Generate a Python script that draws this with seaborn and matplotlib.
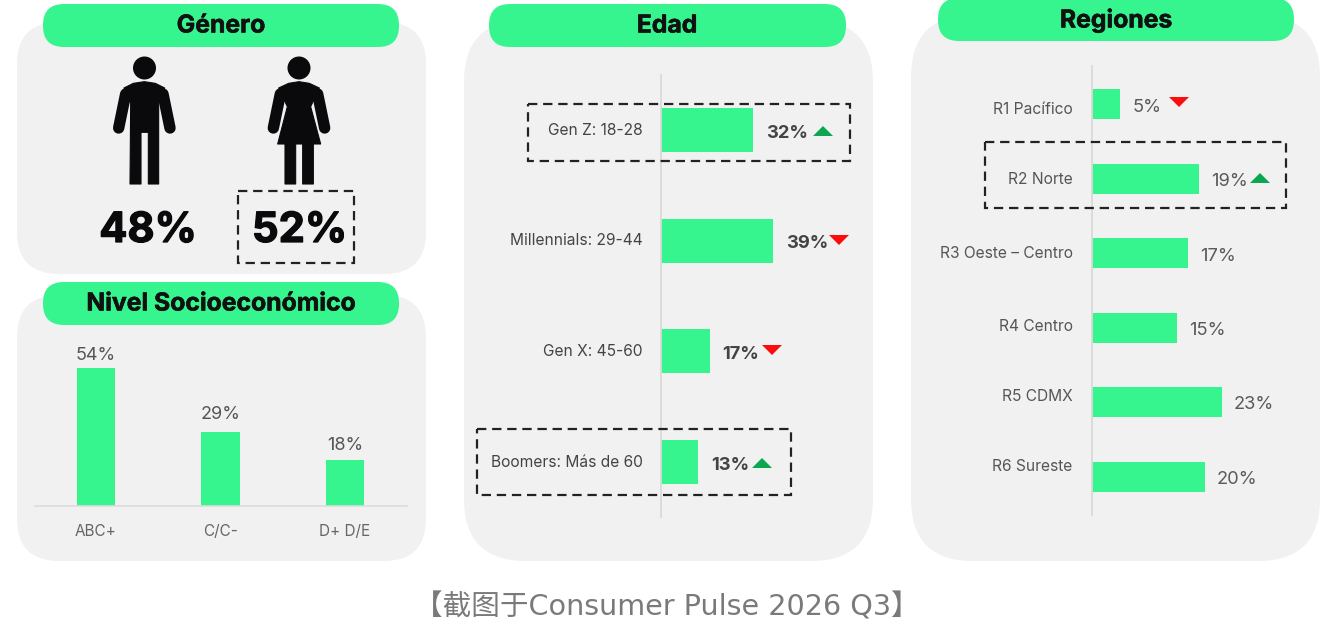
import matplotlib
matplotlib.use("Agg")
import matplotlib.pyplot as plt
import matplotlib.patheffects as pe
import seaborn as sns
import pandas as pd
from matplotlib.patches import FancyBboxPatch, Polygon, Circle, Rectangle
from matplotlib.transforms import ScaledTranslation

sns.set_style("white")
plt.rcParams['font.family'] = ['Inter', 'Noto Sans CJK SC', 'DejaVu Sans']

W, H = 1334, 626
GREEN = "#36F58F"
PANEL = "#F1F1F1"
INK = "#0A0A0C"

gender_labels = ["48%", "52%"]
nse_cats = ["ABC+", "C/C-", "D+ D/E"]
nse_vals = [54, 29, 18]
age_cats = ["Gen Z: 18-28", "Millennials: 29-44", "Gen X: 45-60", "Boomers: Más de 60"]
age_vals = [32, 39, 17, 13]
age_trend = ["up", "down", "down", "up"]
reg_cats = ["R1 Pacífico", "R2 Norte", "R3 Oeste – Centro", "R4 Centro", "R5 CDMX", "R6 Sureste"]
reg_vals = [5, 19, 17, 15, 23, 20]
reg_trend = ["down", "up", None, None, None, None]

fig = plt.figure(figsize=(W / 100, H / 100), dpi=100, facecolor="white")


def px_axes(x0, y0, x1, y1, z=2):
    ax = fig.add_axes([x0 / W, 1 - y1 / H, (x1 - x0) / W, (y1 - y0) / H], zorder=z)
    ax.patch.set_alpha(0)
    return ax


bg = fig.add_axes([0, 0, 1, 1], zorder=1)
bg.set_xlim(0, W); bg.set_ylim(H, 0); bg.axis("off")
top = fig.add_axes([0, 0, 1, 1], zorder=5)
top.set_xlim(0, W); top.set_ylim(H, 0); top.axis("off"); top.patch.set_alpha(0)


def rbox(ax, x0, y0, x1, y1, r, color, z=1):
    ax.add_patch(FancyBboxPatch((x0 + r, y0 + r), x1 - x0 - 2 * r, y1 - y0 - 2 * r,
                                boxstyle=f"round,pad={r},rounding_size={r}",
                                fc=color, ec="none", zorder=z))


panels = [(17, 22, 426, 274, 42), (17, 295, 426, 561, 42),
          (464, 20, 873, 561, 62), (911, 15, 1320, 561, 62)]
for p in panels:
    rbox(bg, *p, PANEL)

pills = [(43, 4, 399, 47, "Género", 221, 26), (43, 282, 399, 325, "Nivel Socioeconómico", 221, 304),
         (489, 4, 846, 47, "Edad", 667, 26), (938, -2, 1294, 41, "Regiones", 1116, 20)]
bold = [pe.withStroke(linewidth=0.4, foreground="#111111")]
for x0, y0, x1, y1, t, cx, cy in pills:
    rbox(bg, x0, y0, x1, y1, 21, GREEN, 2)
    bg.text(cx, cy, t, ha="center", va="center", fontsize=17.8, fontweight="bold", color="#111111",
            zorder=3, path_effects=bold)


def person(cx, lower, hx):
    """Draw a pictogram: torso/skirt/legs polygon plus rounded arms (points in 3x zoom space)."""
    bg.add_patch(Polygon([(a / 3, b / 3) for a, b in lower], closed=True, fc=INK, ec=INK, lw=0.8,
                         joinstyle="round", zorder=3))
    for s in (-1, 1):
        bg.plot([(cx + s * 56) / 3, (cx + s * 77) / 3], [282 / 3, 384 / 3], color=INK, lw=8.2,
                solid_capstyle="round", zorder=3)
    bg.add_patch(Circle((hx, 68), 11.5, fc=INK, ec="none", zorder=3))


man_body = [(433, 245), (400, 250), (372, 264), (392, 310), (390, 552), (423, 552), (423, 397), (445, 397),
            (445, 552), (476, 552), (476, 310), (494, 264), (466, 250)]
woman_body = [(897, 245), (866, 250), (836, 264), (862, 320), (833, 432), (855, 432), (855, 552), (887, 552),
              (887, 432), (908, 432), (908, 552), (940, 552), (940, 432), (962, 432), (932, 320), (958, 264),
              (928, 250)]
person(433, man_body, 144.5)
person(897, woman_body, 299)

big = [pe.withStroke(linewidth=0.9, foreground=INK)]
for lab, cx in zip(gender_labels, (148, 299.5)):
    bg.text(cx, 231, lab, ha="center", va="center", fontsize=30, fontweight="bold", color=INK, zorder=3,
            path_effects=big)


def trend_marker(x, y, kind):
    c = "#0BA750" if kind == "up" else "#FB0D0D"
    s = -1 if kind == "up" else 1
    top.add_patch(Polygon([(x - 10, y - s * 5), (x + 10, y - s * 5), (x, y + s * 5)], closed=True,
                          fc=c, ec="none"))


def dashed(x0, y0, x1, y1):
    top.add_patch(Rectangle((x0, y0), x1 - x0, y1 - y0, fc="none", ec="#222222", lw=1.6,
                            ls=(0, (4.2, 2.6))))


for b in [(238, 191, 354, 263), (528, 104, 850, 161), (477, 429, 791, 495), (985, 142, 1286, 208)]:
    dashed(*b)

# Nivel socioeconómico
ax = px_axes(35, 340, 407, 506)
sns.barplot(data=pd.DataFrame({"c": nse_cats, "v": nse_vals}), x="c", y="v", color=GREEN, saturation=1,
            width=0.313, linewidth=0, ax=ax)
ax.set_xlim(-0.49, 2.498); ax.set_ylim(0, 166 / 2.556)
ax.set(xlabel="", ylabel="", yticks=[])
sns.despine(ax=ax, left=True)
ax.spines["bottom"].set_color("#DCDCDC"); ax.spines["bottom"].set_linewidth(1.2)
ax.tick_params(axis="x", length=0, pad=13, labelsize=11, labelcolor="#666666")
nse_off = [4, 9, 6]
for i, v in enumerate(nse_vals):
    ax.annotate(f"{v}%", (i, v), xytext=(0, nse_off[i]), textcoords="offset pixels", ha="center", va="bottom",
                fontsize=13, color="#555555", annotation_clip=False)

# Edad
x0, y0, x1, y1 = 661, 75, 860, 517
ax = px_axes(x0, y0, x1, y1)
sns.barplot(data=pd.DataFrame({"c": age_cats, "v": age_vals}), y="c", x="v", orient="h", color=GREEN,
            saturation=1, width=44 / 110.7, linewidth=0, ax=ax)
ax.set_xlim(0, (x1 - x0) / 2.88)
ax.set_ylim((517 - 130) / 110.7, -(130 - 75) / 110.7)
ax.set(xlabel="", ylabel="", xticks=[])
sns.despine(ax=ax, bottom=True)
ax.spines["left"].set_color("#D9D9D9"); ax.spines["left"].set_linewidth(1.3)
ax.tick_params(axis="y", length=0, pad=13, labelsize=11.2, labelcolor="#444444")
for t in ax.get_yticklabels():
    t.set_transform(t.get_transform() + ScaledTranslation(0, 1.5 / 100, fig.dpi_scale_trans))
age_tx = [823, 839, 772, 762]
age_ty = [131, 240, 350, 463]
age_gap = [13, 13, 12, 13]
for i, v in enumerate(age_vals):
    ax.annotate(f"{v}%", (v, i), xytext=(age_gap[i], -3), textcoords="offset pixels", ha="left", va="center",
                fontsize=13.2, fontweight="bold", color="#444444")
    trend_marker(age_tx[i], age_ty[i], age_trend[i])

# Regiones
x0, y0, x1, y1 = 1092, 66, 1300, 515
ax = px_axes(x0, y0, x1, y1)
sns.barplot(data=pd.DataFrame({"c": reg_cats, "v": reg_vals}), y="c", x="v", orient="h", color=GREEN,
            saturation=1, width=30 / 74.6, linewidth=0, ax=ax)
ax.set_xlim(0, (x1 - x0) / 5.65)
ax.set_ylim((515 - 104) / 74.6, -(104 - 66) / 74.6)
ax.set(xlabel="", ylabel="", xticks=[])
sns.despine(ax=ax, bottom=True)
ax.spines["left"].set_color("#D9D9D9"); ax.spines["left"].set_linewidth(1.3)
ax.tick_params(axis="y", length=0, pad=14, labelsize=11.2, labelcolor="#555555")
tick_shift = [-4, 1, 1, 3, 7, 12]
for t, d in zip(ax.get_yticklabels(), tick_shift):
    t.set_transform(t.get_transform() + ScaledTranslation(0, d / 100, fig.dpi_scale_trans))
val_shift = [-4, -3, -3, -3, -2, -3]
reg_tx = [1179, 1260]
reg_ty = [102, 178]
for i, v in enumerate(reg_vals):
    ax.annotate(f"{v}%", (v, i), xytext=(12, val_shift[i]), textcoords="offset pixels", ha="left", va="center",
                fontsize=13.2, color="#5A5A5A")
    if reg_trend[i]:
        trend_marker(reg_tx[i], reg_ty[i], reg_trend[i])

top.text(667, 607, "【截图于Consumer Pulse 2026 Q3】", ha="center", va="center", fontsize=20.6,
         color="#7A7A7A", family=['DejaVu Sans', 'Noto Sans CJK SC'])

fig.savefig("out.png", dpi=100, facecolor="white")
